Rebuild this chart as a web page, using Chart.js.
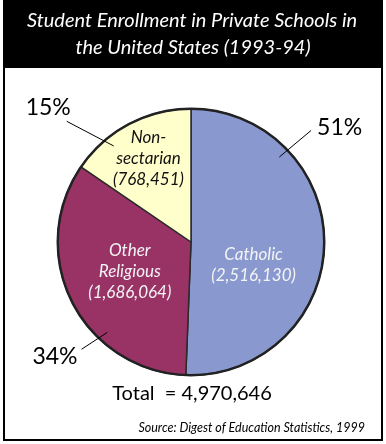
<!DOCTYPE html>
<html>
<head>
<meta charset="UTF-8" />
<script src="https://cdn.jsdelivr.net/npm/chart.js"></script>
<style>
  body { margin: 0; padding: 0; background: #ffffff; }
  canvas { display: block; }
</style>
</head>
<body>
<canvas id="pie" width="386" height="444"></canvas>
<script>
// data
const categories = ["Catholic", "Other Religious", "Non-sectarian"];
const labelLines = [["Catholic"], ["Other", "Religious"], ["Non-", "sectarian"]];
const enrollment = [2516130, 1686064, 768451];
const shares = ["51%", "34%", "15%"];
const titleLines = ["Student Enrollment in Private Schools in", "the United States (1993-94)"];
const totalText = "Total  = 4,970,646";
const sourceText = "Source: Digest of Education Statistics, 1999";

const sliceColors = ["#8999cf", "#993366", "#ffffcc"];
const textColors = ["#f4f4f4", "#f4f4f4", "#111111"];

// where labels sit, relative to each slice's middle angle (degrees) and radius
const innerPlace = [{ da: 19, r: 0.5 }, { da: 1, r: 0.51 }, { da: 0.7, r: 0.70 }];
const leader = [
  { da1: -45, r1: 0.92, da2: -44, r2: 1.23, align: "left", dx: 6, dy: -3 },
  { da1: -20.5, r1: 0.925, da2: -17.7, r2: 1.15, align: "right", dx: -4, dy: 7 },
  { da1: -11, r1: 0.925, da2: -18, r2: 1.30, align: "right", dx: 4, dy: -14 }
];

function pt(el, degOffset, rf) {
  const mid = (el.startAngle + el.endAngle) / 2 + degOffset * Math.PI / 180;
  return { x: el.x + Math.cos(mid) * el.outerRadius * rf, y: el.y + Math.sin(mid) * el.outerRadius * rf };
}

const decor = {
  id: "decor",
  beforeDraw(chart) {
    const ctx = chart.ctx;
    ctx.save();
    ctx.fillStyle = "#ffffff";
    ctx.fillRect(0, 0, 386, 444);
    ctx.fillStyle = "#000000";
    ctx.fillRect(3, 0, 380, 68);
    ctx.restore();
  },
  afterDatasetsDraw(chart) {
    const ctx = chart.ctx;
    const arcs = chart.getDatasetMeta(0).data;
    ctx.save();
    // outer rim
    const a0 = arcs[0];
    ctx.beginPath();
    ctx.arc(a0.x, a0.y, a0.outerRadius, 0, Math.PI * 2);
    ctx.lineWidth = 2.5;
    ctx.strokeStyle = "#222222";
    ctx.stroke();

    // inner labels
    ctx.font = "italic 17px Lato";
    ctx.textAlign = "center";
    ctx.textBaseline = "middle";
    arcs.forEach((el, i) => {
      const p = pt(el, innerPlace[i].da, innerPlace[i].r);
      const lines = labelLines[i].concat(["(" + enrollment[i].toLocaleString("en-US") + ")"]);
      const lh = 21;
      const top = p.y - (lines.length - 1) * lh / 2;
      ctx.fillStyle = textColors[i];
      lines.forEach((t, k) => ctx.fillText(t, p.x, top + k * lh));
    });

    // leader lines and shares
    ctx.strokeStyle = "#000000";
    ctx.lineWidth = 1;
    ctx.fillStyle = "#000000";
    ctx.font = "23px Lato";
    ctx.textBaseline = "middle";
    arcs.forEach((el, i) => {
      const L = leader[i];
      const p1 = pt(el, L.da1, L.r1);
      const p2 = pt(el, L.da2, L.r2);
      ctx.beginPath();
      ctx.moveTo(p1.x, p1.y);
      ctx.lineTo(p2.x, p2.y);
      ctx.stroke();
      ctx.textAlign = L.align;
      ctx.fillText(shares[i], p2.x + L.dx, p2.y + L.dy);
    });
    ctx.restore();
  },
  afterDraw(chart) {
    const ctx = chart.ctx;
    ctx.save();
    // title
    ctx.fillStyle = "#ffffff";
    ctx.font = "italic 20px Lato";
    ctx.textAlign = "center";
    ctx.textBaseline = "middle";
    ctx.fillText(titleLines[0], 192, 21);
    ctx.fillText(titleLines[1], 193, 48);
    // total and source
    ctx.fillStyle = "#000000";
    ctx.font = "20px Lato";
    ctx.fillText(totalText, 192, 394);
    ctx.font = "italic 12.5px Lato";
    ctx.textAlign = "right";
    ctx.fillText(sourceText, 365, 428);
    // frame
    ctx.fillStyle = "#000000";
    ctx.fillRect(3, 0, 2, 441);
    ctx.fillRect(381, 0, 2, 441);
    ctx.fillRect(3, 439, 380, 2);
    ctx.restore();
  }
};

new Chart(document.getElementById("pie"), {
  type: "pie",
  data: {
    labels: categories,
    datasets: [{
      data: enrollment,
      backgroundColor: sliceColors,
      borderColor: "#2a2a2a",
      borderWidth: 1.5
    }]
  },
  options: {
    responsive: false,
    devicePixelRatio: 1,
    animation: false,
    layout: { padding: { left: 57, right: 61, top: 108, bottom: 68 } },
    plugins: {
      legend: { display: false },
      title: { display: false },
      tooltip: { enabled: false }
    }
  },
  plugins: [decor]
});
</script>
</body>
</html>
